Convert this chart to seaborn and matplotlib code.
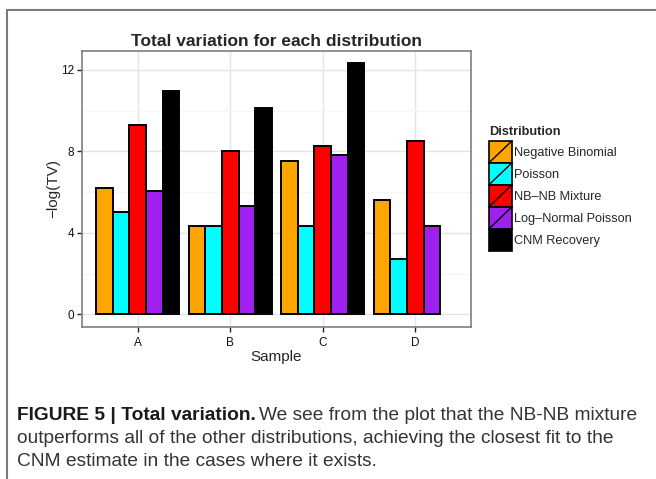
import numpy as np
import pandas as pd
import matplotlib
matplotlib.use("Agg")
import matplotlib.pyplot as plt
import seaborn as sns
from matplotlib.patches import Patch, Rectangle
from matplotlib.lines import Line2D
from matplotlib.ticker import MultipleLocator

# ---- data ----
samples = ["A", "B", "C", "D"]
distributions = ["Negative Binomial", "Poisson", "NB\u2013NB Mixture",
                 "Log\u2013Normal Poisson", "CNM Recovery"]
neg_binomial = [6.21, 4.36, 7.54, 5.61]
poisson = [5.02, 4.36, 4.36, 2.73]
nb_nb_mixture = [9.32, 8.04, 8.27, 8.50]
lognormal_poisson = [6.05, 5.30, 7.81, 4.35]
cnm_recovery = [10.97, 10.14, 12.36, np.nan]
colors = ["#FFA500", "#00FFFF", "#FF0000", "#A020F0", "#000000"]
y_ticks = [0, 4, 8, 12]

series = [neg_binomial, poisson, nb_nb_mixture, lognormal_poisson, cnm_recovery]
rows = []
for d, vals in zip(distributions, series):
    for s, v in zip(samples, vals):
        rows.append({"Sample": s, "Distribution": d, "TV": v})
df = pd.DataFrame(rows)

sns.set_theme(style="white")
plt.rcParams["font.family"] = ["Liberation Sans", "DejaVu Sans"]

fig = plt.figure(figsize=(6.56, 4.79), dpi=100)
ax = fig.add_axes([82 / 656, 1 - 327 / 479, (471 - 82) / 656, (327 - 51) / 479])

sns.barplot(data=df, x="Sample", y="TV", hue="Distribution",
            hue_order=distributions, order=samples,
            palette=colors, saturation=1, width=0.9, gap=0,
            edgecolor="black", linewidth=1.4, errorbar=None,
            legend=False, ax=ax, zorder=3)

ax.set_xlim(-0.6, 3.6)
ax.set_ylim(-0.62, 12.93)
ax.set_yticks(y_ticks)
ax.yaxis.set_minor_locator(MultipleLocator(2))
ax.grid(which="major", color="#e5e5e5", linewidth=1.0, zorder=0)
ax.grid(which="minor", axis="y", color="#f5f5f5", linewidth=0.8, zorder=0)
ax.set_axisbelow(True)
for sp in ax.spines.values():
    sp.set_color("#7f7f7f")
    sp.set_linewidth(1.2)
ax.tick_params(axis="both", which="major", length=3.5, width=1.0,
               color="#222222", labelsize=8.5, labelcolor="#111111", pad=2,
               bottom=True, left=True)
ax.tick_params(axis="x", which="major", pad=3.5)
ax.tick_params(axis="y", which="minor", length=0)
ax.set_xlabel("Sample", fontsize=11, labelpad=1)
ax.set_ylabel("\u2212log(TV)", fontsize=11, labelpad=1)
ax.set_title("Total variation for each distribution", fontsize=12.5,
             fontweight="bold", pad=3.5)


class SlashHandler:
    def legend_artist(self, legend, orig_handle, fontsize, handlebox):
        x0, y0 = -handlebox.xdescent, -handlebox.ydescent
        w, h = handlebox.width, handlebox.height
        t = handlebox.get_transform()
        rect = Rectangle((x0, y0), w, h, facecolor=orig_handle.get_facecolor(),
                         edgecolor="black", linewidth=1.2, transform=t)
        line = Line2D([x0, x0 + w], [y0, y0 + h], color="black",
                      linewidth=1.0, transform=t)
        handlebox.add_artist(rect)
        handlebox.add_artist(line)
        return rect


handles = [Patch(facecolor=c) for c in colors]
leg_fs = 9.2
key_pt = 22 * 72 / 100
leg = fig.legend(handles, distributions, title="Distribution",
                 loc="upper left", bbox_to_anchor=(489 / 656, 1 - 126 / 479),
                 frameon=False, fontsize=leg_fs, title_fontsize=leg_fs,
                 handler_map={Patch: SlashHandler()},
                 handlelength=23 * 72 / 100 / leg_fs,
                 handleheight=(key_pt / leg_fs - 0.245) / 0.65, labelspacing=0.0,
                 handletextpad=0.15, borderpad=0.0, borderaxespad=0.0)
leg.get_title().set_fontweight("bold")
leg._legend_box.align = "left"
leg._legend_box.sep = 2

# frame lines
fig.add_artist(Line2D([7 / 656, 1.0], [1 - 10 / 479, 1 - 10 / 479],
                      color="#7a7a7a", linewidth=1.5, transform=fig.transFigure))
fig.add_artist(Line2D([7 / 656, 7 / 656], [0.0, 1 - 10 / 479],
                      color="#7a7a7a", linewidth=1.5, transform=fig.transFigure))

# caption
cap_size = 13.8
x0 = 17 / 656
t1 = fig.text(x0, 1 - 420 / 479, "FIGURE 5 | Total variation.", fontsize=cap_size,
              fontweight="bold", color="#1a1a1a", va="baseline", ha="left")
renderer = fig.canvas.get_renderer()
bb = t1.get_window_extent(renderer=renderer)
x1 = (bb.x1 + 3) / fig.bbox.width
fig.text(x1, 1 - 420 / 479, "We see from the plot that the NB-NB mixture",
         fontsize=cap_size, color="#333333", va="baseline", ha="left")
fig.text(x0, 1 - 443 / 479,
         "outperforms all of the other distributions, achieving the closest fit to the",
         fontsize=cap_size, color="#333333", va="baseline", ha="left")
fig.text(x0, 1 - 466 / 479, "CNM estimate in the cases where it exists.",
         fontsize=cap_size, color="#333333", va="baseline", ha="left")

fig.savefig("out.png", dpi=100, facecolor="white")
